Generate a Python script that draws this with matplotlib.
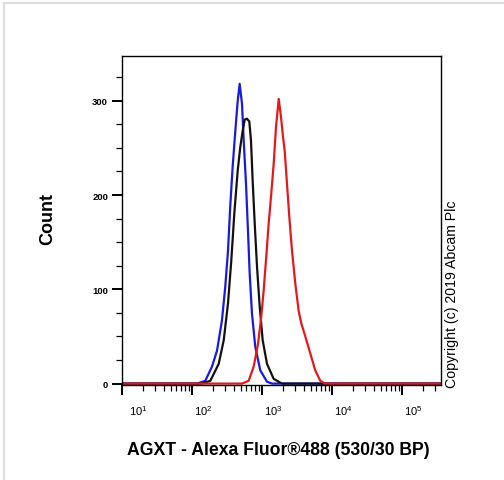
import matplotlib
matplotlib.use("Agg")
import matplotlib.pyplot as plt
from matplotlib.lines import Line2D
from matplotlib.ticker import FixedLocator, NullFormatter
import matplotlib.transforms as mtransforms

plt.rcParams['font.family'] = ['Liberation Sans', 'DejaVu Sans']
plt.rcParams['mathtext.fontset'] = 'custom'
plt.rcParams['mathtext.rm'] = 'Liberation Sans'

# Data (fluorescence intensity, count)
blue_x = [10, 118, 155, 193, 228, 268, 299, 327, 352, 381, 416, 450, 480, 518, 548, 591,
          631, 667, 720, 802, 946, 1179, 1389, 360000]
blue_y = [0, 0, 3, 18, 35, 67, 103, 141, 188, 230, 268, 300, 318, 297, 258, 212,
          162, 117, 74, 39, 14, 2, 0, 0]

black_x = [10, 139, 183, 241, 284, 327, 364, 402, 450, 490, 530, 566, 611, 659, 696, 736,
           787, 849, 927, 1023, 1179, 1469, 1931, 360000]
black_y = [0, 0, 3, 21, 46, 85, 130, 180, 226, 251, 268, 280, 281, 278, 258, 215,
           170, 124, 82, 46, 21, 5, 0, 0]

red_x = [10, 518, 646, 761, 877, 977, 1057, 1152, 1247, 1358, 1469, 1585, 1733, 1868, 1995,
         2110, 2276, 2455, 2683, 2992, 3342, 3641, 4159, 4898, 5768, 6808, 8017, 360000]
red_y = [0, 0, 3, 18, 42, 71, 99, 135, 170, 202, 233, 272, 302, 283, 262,
         247, 212, 177, 141, 106, 77, 64, 50, 32, 14, 3, 0, 0]

xtick_vals = [1e1, 1e2, 1e3, 1e4, 1e5]
xtick_labels = [r'$\mathregular{10^{1}}$', r'$\mathregular{10^{2}}$', r'$\mathregular{10^{3}}$',
                r'$\mathregular{10^{4}}$', r'$\mathregular{10^{5}}$']
ytick_vals = [0, 100, 200, 300]

fig = plt.figure(figsize=(5.04, 4.81), dpi=100)
ax = fig.add_axes([0.242, 0.1975, 0.633, 0.684])

kw = dict(lw=1.6, solid_joinstyle='round')
ax.plot(blue_x, blue_y, color='#1a1adc', **kw)
ax.plot(black_x, black_y, color='#111111', **kw)
ax.plot(red_x, red_y, color='#e31a1c', **kw)

ax.set_xscale('log')
ax.set_xlim(10, 10 ** 5.557)
ax.set_ylim(-1.5, 347.5)

for s in ax.spines.values():
    s.set_linewidth(1.0)
    s.set_color('black')

ax.set_yticks(ytick_vals)
ax.set_yticklabels([str(v) for v in ytick_vals], fontsize=6.8, fontweight='bold')
ax.yaxis.set_minor_locator(FixedLocator([25, 50, 75, 125, 150, 175, 225, 250, 275, 325]))
ax.tick_params(axis='y', which='major', length=7, width=1.4, pad=3, direction='out')
ax.tick_params(axis='y', which='minor', length=4, width=0.9, direction='out')

ax.xaxis.set_major_locator(FixedLocator(xtick_vals))
minors = [m * 10 ** e for e in range(1, 6) for m in range(2, 10) if m * 10 ** e < 10 ** 5.557]
ax.xaxis.set_minor_locator(FixedLocator(minors))
ax.xaxis.set_major_formatter(NullFormatter())
ax.xaxis.set_minor_formatter(NullFormatter())
ax.tick_params(axis='x', which='major', length=7, width=1.4, direction='out')
ax.tick_params(axis='x', which='minor', length=4, width=0.9, direction='out')

trans = mtransforms.blended_transform_factory(ax.transData, ax.transAxes)
for i, (v, lab) in enumerate(zip(xtick_vals, xtick_labels)):
    off = 5 if i == 0 else 1.5
    t = trans + mtransforms.ScaledTranslation(off / 72, 0, fig.dpi_scale_trans)
    ax.text(v, -0.09, lab, transform=t, ha='left', va='baseline', fontsize=8)

fig.text(0.553, 0.054, 'AGXT - Alexa Fluor®488 (530/30 BP)', ha='center', va='baseline',
         fontsize=12.7, fontweight='bold')
fig.text(0.095, 0.545, 'Count', ha='center', va='center', rotation=90,
         fontsize=13, fontweight='bold')
fig.text(0.897, 0.193, 'Copyright (c) 2019 Abcam Plc', ha='center', va='bottom', rotation=90,
         fontsize=10.2)

fig.add_artist(Line2D([4 / 504, 1], [1 - 4 / 481, 1 - 4 / 481], transform=fig.transFigure,
                      color='#dddddd', lw=1.6))
fig.add_artist(Line2D([4 / 504, 4 / 504], [0, 1 - 4 / 481], transform=fig.transFigure,
                      color='#dddddd', lw=1.6))

fig.savefig('out.png', dpi=100)
